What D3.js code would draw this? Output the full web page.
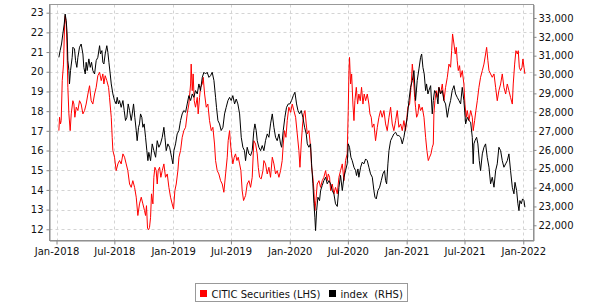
<!DOCTYPE html>
<html><head><meta charset="utf-8">
<script src="https://cdn.jsdelivr.net/npm/d3@7"></script>
<style>
body{margin:0;background:#fff;}
svg{display:block;font-family:"DejaVu Sans",sans-serif;}
</style></head><body>
<svg id="chart" width="603" height="304"></svg>
<script>
// ---- data (dates as decimal years) ----
const redT = [2018.020,2018.026,2018.034,2018.040,2018.049,2018.060,2018.069,2018.074,2018.083,2018.089,2018.097,2018.106,2018.117,2018.126,2018.140,2018.149,2018.157,2018.169,2018.183,2018.197,2018.211,2018.226,2018.240,2018.254,2018.269,2018.283,2018.297,2018.311,2018.326,2018.340,2018.354,2018.369,2018.383,2018.397,2018.406,2018.417,2018.431,2018.446,2018.454,2018.469,2018.477,2018.483,2018.497,2018.511,2018.526,2018.540,2018.554,2018.569,2018.583,2018.597,2018.611,2018.626,2018.640,2018.654,2018.669,2018.683,2018.697,2018.711,2018.726,2018.740,2018.754,2018.763,2018.771,2018.780,2018.789,2018.797,2018.806,2018.814,2018.826,2018.834,2018.843,2018.854,2018.863,2018.871,2018.883,2018.894,2018.906,2018.920,2018.934,2018.949,2018.963,2018.977,2018.991,2019.003,2019.014,2019.026,2019.040,2019.049,2019.063,2019.077,2019.091,2019.106,2019.120,2019.134,2019.149,2019.154,2019.163,2019.171,2019.180,2019.191,2019.206,2019.214,2019.226,2019.234,2019.249,2019.257,2019.269,2019.283,2019.297,2019.311,2019.326,2019.340,2019.354,2019.363,2019.377,2019.391,2019.406,2019.420,2019.434,2019.449,2019.463,2019.471,2019.483,2019.491,2019.500,2019.511,2019.523,2019.534,2019.546,2019.557,2019.569,2019.580,2019.591,2019.603,2019.614,2019.620,2019.634,2019.649,2019.663,2019.677,2019.691,2019.706,2019.720,2019.729,2019.740,2019.754,2019.769,2019.777,2019.791,2019.806,2019.820,2019.834,2019.849,2019.863,2019.877,2019.891,2019.906,2019.920,2019.934,2019.943,2019.954,2019.966,2019.977,2019.991,2020.006,2020.020,2020.034,2020.049,2020.063,2020.077,2020.086,2020.097,2020.109,2020.120,2020.129,2020.140,2020.149,2020.163,2020.177,2020.186,2020.197,2020.206,2020.214,2020.223,2020.234,2020.249,2020.263,2020.277,2020.291,2020.306,2020.320,2020.329,2020.340,2020.349,2020.363,2020.377,2020.391,2020.406,2020.420,2020.434,2020.449,2020.463,2020.477,2020.491,2020.500,2020.506,2020.511,2020.520,2020.529,2020.540,2020.549,2020.557,2020.569,2020.580,2020.591,2020.603,2020.614,2020.626,2020.637,2020.649,2020.663,2020.677,2020.686,2020.697,2020.706,2020.720,2020.734,2020.749,2020.763,2020.777,2020.791,2020.806,2020.820,2020.834,2020.849,2020.863,2020.877,2020.891,2020.906,2020.920,2020.934,2020.949,2020.963,2020.977,2020.991,2021.000,2021.011,2021.026,2021.040,2021.049,2021.057,2021.069,2021.077,2021.086,2021.097,2021.106,2021.120,2021.134,2021.149,2021.163,2021.174,2021.186,2021.197,2021.209,2021.220,2021.229,2021.234,2021.243,2021.254,2021.263,2021.277,2021.291,2021.306,2021.320,2021.334,2021.349,2021.363,2021.377,2021.386,2021.394,2021.406,2021.417,2021.426,2021.434,2021.443,2021.454,2021.463,2021.477,2021.491,2021.500,2021.511,2021.520,2021.534,2021.549,2021.563,2021.571,2021.583,2021.594,2021.606,2021.620,2021.634,2021.649,2021.663,2021.677,2021.686,2021.697,2021.706,2021.720,2021.734,2021.749,2021.763,2021.777,2021.791,2021.806,2021.820,2021.834,2021.849,2021.863,2021.877,2021.891,2021.906,2021.914,2021.926,2021.937,2021.949,2021.957,2021.966,2021.977,2021.989,2021.997,2022.006,2022.014];
const redV = [17.01,17.69,17.35,17.52,19.55,20.39,22.42,22.85,22.42,21.41,19.21,17.86,17.01,17.86,18.53,18.36,17.69,18.20,18.03,18.53,18.36,17.86,18.03,18.36,18.87,19.29,18.53,18.36,18.87,19.21,19.80,19.97,19.55,19.89,19.38,19.80,19.55,19.21,18.70,17.69,16.67,16.00,15.66,14.98,15.32,15.49,15.32,15.83,15.66,15.32,14.98,14.30,14.13,14.47,14.13,13.63,12.70,13.29,13.63,13.29,12.95,12.70,13.20,12.05,11.98,12.10,12.61,13.80,13.29,14.64,15.15,14.98,14.30,14.98,15.15,14.64,14.98,15.32,14.64,14.81,14.13,13.63,13.29,13.03,13.96,14.30,14.98,15.66,16.00,16.67,17.01,17.18,17.86,18.36,19.38,20.39,19.04,19.89,18.53,18.20,18.70,17.86,18.70,19.21,19.38,19.72,18.87,18.20,18.36,17.52,17.01,17.18,16.33,15.49,14.98,14.81,14.47,14.30,13.88,14.81,15.66,16.50,17.01,16.33,15.83,15.32,15.66,15.83,15.49,15.66,15.32,14.98,13.96,13.46,13.63,13.71,14.30,14.47,14.13,14.64,16.50,16.33,15.83,15.15,14.64,14.56,14.98,15.49,15.32,14.81,15.15,14.64,15.66,15.32,14.81,14.98,14.64,14.98,15.49,16.33,17.01,16.67,17.52,18.20,17.94,18.36,18.03,17.69,16.84,16.00,15.15,16.33,17.35,17.86,18.03,17.35,16.84,17.01,16.16,15.15,14.64,13.96,12.95,13.46,14.30,14.47,14.13,14.47,14.64,14.98,14.47,14.81,14.64,13.96,14.30,13.80,14.13,13.80,14.64,14.98,15.32,14.47,15.49,15.83,18.03,20.06,20.73,19.38,19.89,18.36,17.52,18.53,19.21,18.36,18.87,18.53,19.21,18.36,18.87,18.53,18.87,18.36,17.86,17.69,17.18,17.35,16.50,17.18,17.69,18.03,17.69,18.03,17.35,17.01,17.69,18.20,17.35,17.01,17.52,18.03,17.18,17.35,17.01,17.52,17.01,17.52,18.20,18.36,19.38,20.39,19.89,18.70,18.20,17.69,17.86,18.36,18.03,18.20,17.69,16.67,16.00,15.49,15.66,15.83,16.16,16.33,17.86,18.53,19.04,18.70,19.21,18.87,19.38,18.53,19.21,19.72,20.39,20.23,21.07,21.92,21.41,20.90,21.24,20.56,20.06,20.31,19.72,20.06,19.38,18.36,17.69,18.03,17.52,18.03,17.69,17.01,17.52,18.03,18.53,19.21,19.72,20.06,20.39,20.90,21.24,20.56,20.06,19.89,19.72,19.89,19.21,18.53,19.04,19.38,19.89,19.21,18.87,19.38,19.04,18.70,18.36,19.38,20.39,21.07,20.90,21.07,20.23,20.06,20.23,20.65,20.23,19.89];

const idxT = [2018.020,2018.031,2018.043,2018.054,2018.066,2018.074,2018.083,2018.091,2018.097,2018.106,2018.111,2018.120,2018.134,2018.140,2018.154,2018.163,2018.174,2018.183,2018.197,2018.211,2018.226,2018.234,2018.246,2018.254,2018.263,2018.277,2018.289,2018.300,2018.311,2018.326,2018.340,2018.354,2018.369,2018.377,2018.389,2018.397,2018.406,2018.417,2018.431,2018.440,2018.449,2018.460,2018.469,2018.483,2018.497,2018.511,2018.520,2018.531,2018.540,2018.554,2018.569,2018.580,2018.591,2018.603,2018.614,2018.626,2018.640,2018.649,2018.660,2018.671,2018.683,2018.691,2018.703,2018.711,2018.720,2018.731,2018.740,2018.751,2018.763,2018.774,2018.783,2018.791,2018.806,2018.820,2018.834,2018.849,2018.863,2018.877,2018.891,2018.906,2018.920,2018.929,2018.940,2018.954,2018.969,2018.986,2018.997,2019.006,2019.020,2019.034,2019.049,2019.063,2019.077,2019.091,2019.106,2019.120,2019.134,2019.149,2019.163,2019.177,2019.191,2019.206,2019.220,2019.234,2019.249,2019.263,2019.277,2019.291,2019.306,2019.320,2019.334,2019.349,2019.363,2019.371,2019.383,2019.397,2019.411,2019.426,2019.440,2019.454,2019.469,2019.483,2019.497,2019.511,2019.526,2019.540,2019.554,2019.569,2019.583,2019.597,2019.611,2019.620,2019.634,2019.649,2019.663,2019.677,2019.691,2019.700,2019.711,2019.720,2019.734,2019.749,2019.763,2019.777,2019.791,2019.806,2019.820,2019.834,2019.849,2019.863,2019.877,2019.891,2019.906,2019.920,2019.929,2019.943,2019.957,2019.971,2019.986,2020.000,2020.014,2020.029,2020.043,2020.057,2020.069,2020.083,2020.097,2020.111,2020.126,2020.140,2020.149,2020.163,2020.177,2020.186,2020.197,2020.206,2020.214,2020.220,2020.229,2020.240,2020.254,2020.263,2020.277,2020.291,2020.306,2020.320,2020.334,2020.349,2020.363,2020.377,2020.391,2020.406,2020.420,2020.434,2020.449,2020.463,2020.477,2020.491,2020.500,2020.511,2020.523,2020.534,2020.549,2020.563,2020.571,2020.583,2020.591,2020.606,2020.620,2020.634,2020.649,2020.663,2020.677,2020.691,2020.706,2020.720,2020.729,2020.740,2020.754,2020.769,2020.783,2020.797,2020.811,2020.820,2020.829,2020.840,2020.849,2020.863,2020.877,2020.891,2020.906,2020.920,2020.934,2020.949,2020.963,2020.977,2020.991,2021.006,2021.020,2021.034,2021.049,2021.063,2021.077,2021.091,2021.106,2021.120,2021.129,2021.140,2021.151,2021.163,2021.171,2021.183,2021.191,2021.206,2021.220,2021.229,2021.240,2021.257,2021.269,2021.277,2021.291,2021.306,2021.320,2021.334,2021.349,2021.363,2021.377,2021.391,2021.406,2021.420,2021.434,2021.449,2021.463,2021.477,2021.491,2021.506,2021.520,2021.534,2021.549,2021.563,2021.571,2021.577,2021.586,2021.600,2021.611,2021.623,2021.634,2021.649,2021.663,2021.677,2021.691,2021.706,2021.720,2021.734,2021.749,2021.763,2021.777,2021.791,2021.806,2021.820,2021.834,2021.849,2021.863,2021.877,2021.891,2021.906,2021.920,2021.929,2021.943,2021.954,2021.963,2021.971,2021.983,2021.994,2022.006,2022.014];
const idxV = [30910,31270,31620,32150,32680,33210,32860,32150,30740,30210,29500,30210,30910,31450,31360,30740,30380,30910,31450,31620,31090,30380,30030,30650,30210,30830,30380,30650,30210,30030,30740,30910,31530,31090,31270,30650,30560,31090,31530,31180,30650,30030,29500,28970,28620,28440,28790,28440,28620,28260,28620,28090,27560,27730,28440,28090,27560,27910,28440,27730,27030,26490,27200,27380,27910,27730,27200,27380,26670,25960,25430,25870,25430,26320,25960,25610,26490,26140,26320,26670,27200,26670,25960,26320,26140,25610,25260,25960,26320,26850,27030,27560,27910,28090,28000,28440,28880,28620,28970,28790,29150,28970,29500,29150,29850,30120,30030,30120,29850,29940,30120,29680,28790,28260,27560,27380,27030,27200,27910,28260,28620,28790,28620,28880,28440,28700,28440,27910,26670,26140,25960,25430,26140,25790,25700,25960,27030,27380,27030,26490,26140,25960,26230,25960,26490,26850,26670,27380,27910,27200,26670,26490,26850,26320,26140,27030,27730,28260,28440,28440,28620,28880,29060,28440,28090,27910,28090,27730,27200,26850,26320,26140,26320,25260,24200,23140,22430,21720,22780,23490,23310,23840,24110,24370,24550,24200,24370,24200,23840,23670,23140,23000,24000,24650,23840,24550,24900,25260,26320,26140,25610,25430,25080,24900,24640,24990,24550,25080,25350,25260,25520,25430,25080,24730,24550,23840,23490,23400,23840,24020,24370,24730,24900,24370,24200,25260,25960,26490,26670,26850,26940,26760,26760,26670,26320,26670,27200,27730,28620,29320,29680,30210,28620,29680,30300,30910,31090,30380,30030,29150,29500,28970,29150,29410,27910,28620,29150,28970,28440,29320,28970,29150,28620,28440,27730,28260,28620,29150,29410,28970,28790,28620,28440,29320,28620,27380,27730,27560,27470,26670,25260,26320,26490,26670,26320,25430,24900,25790,26140,26320,25610,25080,24200,24550,24020,24900,25260,26140,25960,25430,25080,25260,25430,25790,24900,24020,23670,24280,23840,23140,22780,23310,23140,23400,23310,22960];

const xTickDates = ["2018-01-01","2018-07-01","2019-01-01","2019-07-01","2020-01-01","2020-07-01","2021-01-01","2021-07-01","2022-01-01"];
const leftTicks = [12,13,14,15,16,17,18,19,20,21,22,23];
const rightTicks = [22000,23000,24000,25000,26000,27000,28000,29000,30000,31000,32000,33000];
const seriesNames = ["CITIC Securities (LHS)", "index  (RHS)"];
const seriesColors = ["#ff0000", "#000000"];

// ---- layout ----
const plot = {left: 49.5, right: 533.5, top: 4.5, bottom: 240.5};
const svg = d3.select("#chart");
const toDate = t => new Date(Date.UTC(2018,0,1) + (t - 2018) * 365.25 * 864e5);

const x = d3.scaleUtc()
  .domain([new Date(Date.UTC(2017,11,10)), new Date(Date.UTC(2022,1,2))])
  .range([plot.left, plot.right]);
const yL = d3.scaleLinear().domain([11.431, 23.416]).range([plot.bottom, plot.top]);
const yR = d3.scaleLinear().domain([21193, 33716]).range([plot.bottom, plot.top]);

const xTicks = xTickDates.map(s => new Date(s + "T00:00:00Z"));

// gridlines
const grid = svg.append("g").attr("stroke", "#d4d4d4").attr("stroke-dasharray", "3,3").attr("stroke-width", 1);
grid.selectAll("line.h").data(leftTicks).join("line")
  .attr("x1", plot.left).attr("x2", plot.right)
  .attr("y1", d => Math.round(yL(d)) + 0.5).attr("y2", d => Math.round(yL(d)) + 0.5);
grid.selectAll("line.v").data(xTicks).join("line")
  .attr("y1", plot.top).attr("y2", plot.bottom)
  .attr("x1", d => Math.round(x(d)) + 0.5).attr("x2", d => Math.round(x(d)) + 0.5);

// lines
const lineRed = d3.line().x(d => x(toDate(d[0]))).y(d => yL(d[1]));
const lineIdx = d3.line().x(d => x(toDate(d[0]))).y(d => yR(d[1]));
svg.append("path").datum(redT.map((t, i) => [t, redV[i]]))
  .attr("d", lineRed).attr("fill", "none").attr("stroke", seriesColors[0]).attr("stroke-width", 1);
svg.append("path").datum(idxT.map((t, i) => [t, idxV[i]]))
  .attr("d", lineIdx).attr("fill", "none").attr("stroke", seriesColors[1]).attr("stroke-width", 1);

// frame
svg.append("rect").attr("x", plot.left).attr("y", plot.top)
  .attr("width", plot.right - plot.left).attr("height", plot.bottom - plot.top)
  .attr("fill", "none").attr("stroke", "#999");

// axes
function styleAxis(g) {
  g.select(".domain").attr("stroke", "#888");
  g.selectAll(".tick line").attr("stroke", "#888");
  g.selectAll(".tick text").attr("fill", "#111").attr("font-size", 10).attr("font-family", "DejaVu Sans");
}
svg.append("g").attr("transform", `translate(${plot.left},0)`)
  .call(d3.axisLeft(yL).tickValues(leftTicks).tickSize(3).tickPadding(3).tickSizeOuter(0))
  .call(styleAxis);
svg.append("g").attr("transform", `translate(${plot.right},0)`)
  .call(d3.axisRight(yR).tickValues(rightTicks).tickFormat(d3.format(",")).tickSize(3).tickPadding(2).tickSizeOuter(0))
  .call(styleAxis);
svg.append("g").attr("transform", `translate(0,${plot.bottom})`)
  .call(d3.axisBottom(x).tickValues(xTicks).tickFormat(d3.utcFormat("%b-%Y")).tickSize(4).tickPadding(3).tickSizeOuter(0))
  .call(styleAxis);

// legend
const lg = svg.append("g");
lg.append("rect").attr("x", 195.5).attr("y", 283.5).attr("width", 212).attr("height", 18)
  .attr("fill", "#fff").attr("stroke", "#999");
const legendX = [200, 329];
seriesNames.forEach((name, i) => {
  lg.append("rect").attr("x", legendX[i]).attr("y", 290).attr("width", 7).attr("height", 7).attr("fill", seriesColors[i]);
  lg.append("text").attr("x", legendX[i] + 11.5).attr("y", 297.5)
    .attr("font-size", 10).attr("fill", "#111").style("white-space", "pre")
    .text(name);
});
</script>
</body></html>
